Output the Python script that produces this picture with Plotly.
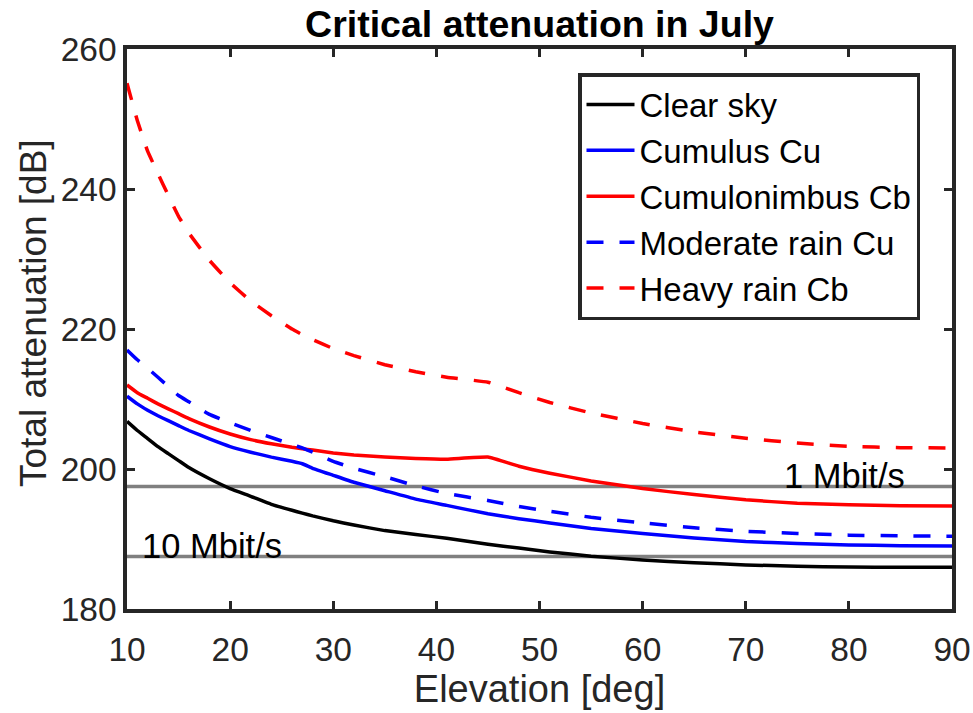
import plotly.graph_objects as go

elevation = [10, 11, 12, 13, 14, 15, 16, 18, 20, 22, 24, 26, 27, 28, 30, 32, 35, 38, 41, 45,
             48, 51, 55, 60, 65, 70, 75, 80, 85, 90]

clear_sky = [206.8, 205.5, 204.35, 203.2, 202.2, 201.2, 200.2, 198.6, 197.2, 196.1, 194.95, 194.1,
             193.7, 193.3, 192.6, 192.0, 191.2, 190.65, 190.1, 189.25,
             188.7, 188.15, 187.55, 187.0, 186.6, 186.3, 186.1, 186.0, 185.95, 185.95]
cumulus_cu = [210.4, 209.3, 208.4, 207.6, 206.9, 206.2, 205.5, 204.3, 203.2, 202.4, 201.7, 201.1,
              200.75, 200.1, 199.1, 198.1, 196.9, 195.7, 194.8, 193.6,
              192.9, 192.3, 191.5, 190.8, 190.15, 189.65, 189.35, 189.15, 189.05, 189.0]
cumulonimbus_cb = [212.0, 210.9, 210.1, 209.3, 208.6, 207.9, 207.2, 206.0, 205.0, 204.2, 203.6, 203.1,
                   202.9, 202.7, 202.3, 202.0, 201.7, 201.5, 201.4, 201.7,
                   200.4, 199.4, 198.3, 197.2, 196.35, 195.6, 195.1, 194.9, 194.75, 194.7]
moderate_rain_cu = [217.0, 215.6, 214.4, 213.1, 211.8, 210.5, 209.6, 207.8, 206.6, 205.5, 204.5, 203.5,
                    203.0, 202.4, 201.1, 200.1, 198.9, 197.6, 196.5, 195.5,
                    194.65, 193.95, 193.1, 192.3, 191.6, 191.1, 190.8, 190.55, 190.45, 190.4]
heavy_rain_cb = [255.1, 249.8, 245.4, 242.2, 239.1, 236.1, 233.7, 229.8, 226.6, 224.0, 221.9, 220.0,
                 219.2, 218.5, 217.2, 216.2, 214.9, 213.9, 213.1, 212.4,
                 210.9, 209.5, 208.0, 206.5, 205.3, 204.4, 203.7, 203.25, 203.05, 203.0]

threshold_labels = ["1 Mbit/s", "10 Mbit/s"]
threshold_values = [197.5, 187.5]
threshold_label_x = [73.5, 11.26]

x_ticks = [10, 20, 30, 40, 50, 60, 70, 80, 90]
y_ticks = [180, 200, 220, 240, 260]

FONT = "Liberation Sans, Arial, Helvetica, sans-serif"
AX = "#262626"
DASH = "17px,16px"

fig = go.Figure()

# threshold lines (not in legend)
for val in threshold_values:
    fig.add_trace(go.Scatter(x=[elevation[0], elevation[-1]], y=[val, val], mode="lines",
                             line=dict(color="#808080", width=3.3), showlegend=False,
                             hoverinfo="skip"))

series = [
    ("Clear sky", clear_sky, "black", "solid"),
    ("Cumulus Cu", cumulus_cu, "#0000ff", "solid"),
    ("Cumulonimbus Cb", cumulonimbus_cb, "#ff0000", "solid"),
    ("Moderate rain Cu", moderate_rain_cu, "#0000ff", DASH),
    ("Heavy rain Cb", heavy_rain_cb, "#ff0000", DASH),
]
for name, ys, col, dash in series:
    fig.add_trace(go.Scatter(x=elevation, y=ys, mode="lines", name=name,
                             line=dict(color=col, width=3.5, dash=dash, shape="spline",
                                       smoothing=0.3)))

for lab, val, lx in zip(threshold_labels, threshold_values, threshold_label_x):
    fig.add_annotation(x=lx, y=val, text=lab, showarrow=False, xanchor="left", yanchor="bottom",
                       yshift=-10, font=dict(family=FONT, size=34.5, color="black"))

# y axis title
fig.add_annotation(xref="paper", yref="paper", x=(33 - 127) / 825, y=1 - (313 - 49) / 560,
                   text="Total attenuation [dB]", textangle=-90, showarrow=False,
                   xanchor="center", yanchor="middle",
                   font=dict(family=FONT, size=37, color=AX))

fig.update_layout(
    width=973, height=713,
    margin=dict(l=127, r=21, t=49, b=104),
    paper_bgcolor="white", plot_bgcolor="white",
    font=dict(family=FONT, size=33, color=AX),
    title=dict(text="<b>Critical attenuation in July</b>", x=(127 + 412.5) / 973, xanchor="center",
               y=1 - 24 / 713, yanchor="middle",
               font=dict(family=FONT, size=37.5, color="black")),
    xaxis=dict(range=[10, 90], tickvals=x_ticks, ticks="inside", ticklen=8, tickwidth=3,
               tickcolor=AX, showline=True, linecolor=AX, linewidth=3.5, mirror="ticks",
               showgrid=False, zeroline=False, automargin=False, ticklabelstandoff=8,
               tickfont=dict(family=FONT, size=33.5, color=AX),
               title=dict(text="Elevation [deg]", font=dict(family=FONT, size=38, color=AX), standoff=8)),
    yaxis=dict(range=[180, 260], tickvals=y_ticks, ticks="inside", ticklen=8, tickwidth=3,
               tickcolor=AX, showline=True, linecolor=AX, linewidth=3.5, mirror="ticks",
               showgrid=False, zeroline=False, automargin=False,
               tickfont=dict(family=FONT, size=33.5, color=AX)),
    legend=dict(x=(578 - 127) / 825, y=1 - (73 - 49) / 560, xanchor="left", yanchor="top",
                bgcolor="white", bordercolor=AX, borderwidth=3.5,
                font=dict(family=FONT, size=33, color="black"),
                itemwidth=48, tracegroupgap=0),
)

fig.write_html("out.html")
